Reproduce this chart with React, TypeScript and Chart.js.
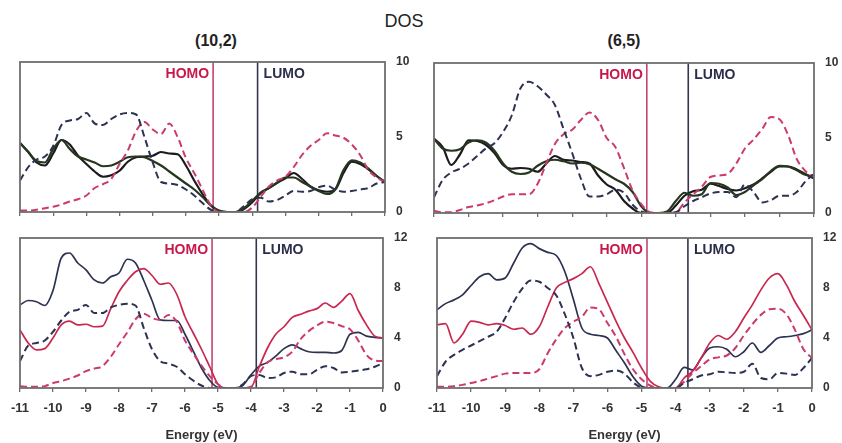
import React, { useEffect, useRef } from "react";
import { Chart, registerables } from "chart.js";
Chart.register(...registerables);

// Energy grid (eV)
const ENERGY = [
  -11, -10.75, -10.5, -10.25, -10, -9.75, -9.5, -9.25, -9, -8.75,
  -8.5, -8.25, -8, -7.75, -7.5, -7.25, -7, -6.75, -6.5, -6.25,
  -6, -5.75, -5.5, -5.25, -5, -4.75, -4.5, -4.25, -4, -3.75,
  -3.5, -3.25, -3, -2.75, -2.5, -2.25, -2, -1.75, -1.5, -1.25,
  -1, -0.75, -0.5, -0.25, 0,
];

const X_TICKS = [-11, -10, -9, -8, -7, -6, -5, -4, -3, -2, -1, 0];
const Y_TICKS_TOP = [0, 5, 10];
const Y_TICKS_BOTTOM = [0, 4, 8, 12];

const TITLE = "DOS";
const COLUMN_TITLES = ["(10,2)", "(6,5)"];
const X_AXIS_TITLE = "Energy (eV)";
const HOMO_LABEL = "HOMO";
const LUMO_LABEL = "LUMO";

// Frontier levels (eV)
const HOMO_10_2 = -5.18;
const LUMO_10_2 = -3.84;
const HOMO_6_5 = -4.84;
const LUMO_6_5 = -3.64;

// (10,2) upper panel
const T102_SOLID_A = [4.6, 4.0, 3.3, 3.1, 3.9, 4.8, 4.5, 3.75, 3.2, 2.7, 2.35, 2.45, 2.75, 3.35, 3.65, 3.7, 3.75, 4.0, 3.9, 3.85, 3.1, 2.1, 1.2, 0.45, 0.05, 0, 0, 0.2, 0.65, 1.25, 1.6, 1.95, 2.25, 2.6, 2.2, 1.7, 1.45, 1.35, 1.5, 2.6, 3.35, 3.2, 2.85, 2.4, 2.0];
const T102_SOLID_B = [4.6, 4.0, 3.4, 3.3, 4.2, 4.8, 4.2, 3.7, 3.5, 3.3, 3.05, 3.1, 3.35, 3.65, 3.7, 3.65, 3.4, 3.1, 2.7, 2.3, 1.9, 1.5, 1.0, 0.45, 0.1, 0, 0, 0.25, 0.75, 1.3, 1.6, 1.95, 2.3, 2.3, 2.0, 1.7, 1.4, 1.2, 1.5, 2.8, 3.45, 3.3, 2.9, 2.4, 2.0];
const T102_DASH_NAVY = [2.1, 3.0, 3.5, 3.7, 4.4, 5.8, 6.1, 6.2, 6.6, 5.9, 5.8, 6.2, 6.5, 6.6, 6.5, 5.0, 3.3, 2.0, 1.9, 1.8, 1.5, 1.1, 0.6, 0.15, 0, 0, 0, 0.4, 0.85, 0.95, 0.7, 0.8, 1.1, 1.4, 1.35, 1.4, 1.65, 1.75, 1.5, 1.35, 1.4, 1.5, 1.6, 1.9, 2.0];
const T102_DASH_RED = [0.1, 0.1, 0.15, 0.25, 0.35, 0.5, 0.7, 0.85, 1.1, 1.6, 1.85, 2.2, 3.2, 4.1, 5.4, 6.0, 5.5, 5.2, 5.9, 5.0, 3.6, 2.6, 1.5, 0.45, 0, 0, 0, 0, 0.3, 1.0, 1.7, 2.1, 2.35, 3.0, 3.8, 4.4, 4.8, 5.25, 5.1, 4.95, 4.5, 3.8, 2.8, 2.3, 2.0];

// (6,5) upper panel
const T65_SOLID_A = [4.95, 4.4, 3.2, 3.9, 4.85, 4.8, 4.55, 4.0, 3.2, 2.95, 3.0, 2.95, 2.75, 3.3, 3.8, 3.55, 3.5, 3.4, 3.3, 2.5, 1.9, 1.55, 0.8, 0.3, 0, 0, 0, 0, 0.5, 1.15, 1.45, 1.55, 1.95, 1.8, 1.6, 1.5, 1.65, 1.9, 2.3, 2.75, 3.1, 3.1, 2.9, 2.6, 2.3];
const T65_SOLID_B = [4.95, 4.3, 4.15, 4.25, 4.7, 4.85, 4.7, 4.15, 3.3, 2.75, 2.6, 2.7, 3.15, 3.45, 3.55, 3.45, 3.3, 3.35, 3.25, 2.95, 2.6, 2.25, 1.95, 1.4, 0.45, 0, 0, 0.1, 0.8, 1.35, 1.15, 1.25, 2.0, 1.95, 1.7, 1.2, 1.4, 1.85, 2.25, 2.8, 3.15, 3.1, 2.85, 2.55, 2.4];
const T65_DASH_NAVY = [1.05, 2.2, 2.7, 2.95, 3.3, 3.8, 4.3, 4.65, 5.4, 6.5, 8.3, 8.75, 8.45, 7.9, 7.2, 5.6, 4.0, 2.3, 1.1, 1.1, 1.25, 1.55, 1.35, 0.55, 0.1, 0, 0, 0, 0.05, 0.45, 0.8, 1.05, 1.3, 1.4, 1.4, 1.05, 1.9, 1.4, 0.7, 0.85, 1.15, 1.15, 1.4, 2.1, 2.6];
const T65_DASH_RED = [0.15, 0.05, 0.05, 0.2, 0.4, 0.5, 0.65, 0.85, 1.1, 1.25, 1.25, 1.25, 1.95, 3.3, 4.6, 5.25, 5.55, 6.2, 6.7, 6.2, 5.0, 4.4, 3.0, 1.5, 0.6, 0.05, 0, 0, 0.05, 0.7, 1.25, 1.75, 2.4, 2.5, 2.6, 3.3, 4.3, 4.9, 5.6, 6.4, 6.25, 5.2, 3.6, 2.8, 2.4];

// (10,2) lower panel
const B102_SOLID_NAVY = [6.65, 7.0, 6.9, 6.6, 7.8, 10.4, 10.8, 10.0, 9.45, 8.65, 8.4, 8.9, 9.2, 10.3, 10.0, 8.6, 7.0, 5.45, 5.4, 5.4, 4.3, 2.95, 1.6, 0.6, 0.05, 0, 0, 0.2, 1.05, 1.75, 2.05, 2.55, 3.15, 3.45, 3.15, 2.9, 2.85, 2.85, 2.8, 3.0, 4.3, 4.45, 4.15, 4.05, 4.0];
const B102_SOLID_RED = [4.65, 3.6, 3.05, 3.15, 4.0, 5.05, 5.35, 5.05, 5.1, 4.9, 4.95, 6.35, 7.7, 8.6, 9.3, 9.55, 9.0, 8.3, 8.4, 7.5, 5.7, 4.4, 3.1, 1.7, 0.3, 0, 0, 0, 0.05, 1.7, 3.2, 4.3, 4.9, 5.65, 5.9, 6.15, 6.35, 6.8, 6.45, 6.95, 7.55, 6.2, 5.05, 4.15, 4.0];
const B102_DASH_NAVY = [2.15, 3.4, 3.6, 3.8, 4.5, 5.4, 6.1, 6.25, 6.65, 6.0, 6.0, 6.45, 6.65, 6.75, 6.6, 4.8, 3.1, 2.15, 1.95, 1.7, 1.1, 0.6, 0.2, 0, 0, 0, 0, 0.3, 0.95, 1.05, 0.8, 0.85, 1.2, 1.3, 1.1, 1.1, 1.45, 1.75, 1.6, 1.25, 1.3, 1.4, 1.5, 1.7, 2.0];
const B102_DASH_RED = [0.15, 0.1, 0.1, 0.15, 0.4, 0.55, 0.75, 1.0, 1.35, 1.55, 1.75, 2.5, 3.5, 4.45, 5.5, 5.95, 5.6, 5.45, 5.85, 5.3, 3.8, 2.75, 1.8, 0.95, 0.3, 0, 0, 0, 0.1, 1.2, 2.05, 2.3, 2.45, 2.9, 3.9, 4.55, 5.0, 5.3, 5.2, 4.95, 4.7, 3.8, 2.65, 2.2, 2.15];

// (6,5) lower panel
const B65_SOLID_NAVY = [6.25, 6.75, 7.05, 7.45, 8.2, 8.9, 9.15, 8.65, 8.8, 10.0, 11.2, 11.55, 11.15, 10.85, 10.6, 9.3, 7.1, 4.8, 4.3, 4.2, 4.0, 3.0, 2.0, 0.9, 0.15, 0, 0, 0, 0.7, 1.65, 1.45, 2.4, 3.2, 3.3, 3.1, 2.5, 2.9, 3.6, 2.85, 3.4, 4.0, 4.1, 4.2, 4.35, 4.65];
const B65_SOLID_RED = [5.05, 5.15, 3.6, 4.3, 5.35, 5.25, 5.05, 5.15, 5.0, 4.7, 4.8, 4.3, 4.9, 6.5, 8.0, 8.45, 8.75, 9.15, 9.7, 8.35, 6.85, 5.35, 4.0, 2.85, 1.6, 0.55, 0.1, 0, 0, 0.8, 1.35, 2.4, 3.6, 4.2, 3.9, 4.5, 5.6, 6.65, 7.85, 8.8, 9.15, 8.25, 6.9, 5.8, 4.65];
const B65_DASH_NAVY = [0.95, 2.1, 2.65, 3.05, 3.4, 3.75, 4.1, 4.5, 5.6, 6.9, 7.95, 8.6, 8.5, 8.0, 7.4, 5.9, 4.0, 1.6, 0.95, 1.05, 1.3, 1.4, 1.15, 0.45, 0.05, 0, 0, 0, 0, 0.4, 0.7, 1.0, 1.1, 1.3, 1.25, 1.2, 1.3, 1.95, 0.8, 0.7, 1.2, 1.15, 1.05, 1.6, 2.4];
const B65_DASH_RED = [0.1, 0.1, 0.15, 0.25, 0.4, 0.55, 0.75, 0.95, 1.15, 1.2, 1.2, 1.2, 1.5, 2.8, 3.9, 4.8, 5.3, 5.7, 6.45, 6.3, 5.2, 4.1, 2.7, 1.5, 0.7, 0.2, 0, 0, 0, 0.5, 1.2, 1.75, 2.3, 2.45, 2.6, 3.2, 4.2, 5.1, 5.85, 6.3, 6.35, 5.9, 4.65, 3.1, 2.4];

const W = 842;
const H = 443;
const FONT = "'Liberation Sans', Arial, Helvetica, sans-serif";
const RED = "#c8284f";
const RED_DASH = "#cc3a6c";
const NAVY = "#2d3252";
const BLACK = "#1c1a1c";
const GREEN = "#26361f";
const FRAME = "#6e6e6e";
const Y_AXIS_W = 30;

type Series = { data: number[]; color: string; dash: number[]; width: number };
type Area = { left: number; top: number; right: number; bottom: number };

interface PanelProps {
  area: Area;
  yTicks: number[];
  showX: boolean;
  series: Series[];
  homo: number;
  lumo: number;
}

function Panel({ area, yTicks, showX, series, homo, lumo }: PanelProps) {
  const ref = useRef<HTMLCanvasElement | null>(null);
  useEffect(() => {
    if (!ref.current) return;
    const axisH = showX ? H - area.bottom : 10;
    const decor = {
      id: "decor",
      beforeDatasetsDraw(chart: any) {
        const { ctx, chartArea: a, scales } = chart;
        const xs = scales.x;
        ctx.save();
        ctx.lineWidth = 1.6;
        ctx.strokeStyle = "#c4466e";
        const hx = xs.getPixelForValue(homo);
        ctx.beginPath();
        ctx.moveTo(hx, a.top);
        ctx.lineTo(hx, a.bottom);
        ctx.stroke();
        ctx.strokeStyle = "#33364e";
        const lx = xs.getPixelForValue(lumo);
        ctx.beginPath();
        ctx.moveTo(lx, a.top);
        ctx.lineTo(lx, a.bottom);
        ctx.stroke();
        ctx.restore();
      },
      afterDatasetsDraw(chart: any) {
        const { ctx, chartArea: a, scales } = chart;
        const xs = scales.x;
        ctx.save();
        ctx.strokeStyle = FRAME;
        ctx.lineWidth = 1.8;
        ctx.strokeRect(a.left, a.top, a.right - a.left, a.bottom - a.top);
        ctx.font = `bold 14px ${FONT}`;
        ctx.textBaseline = "top";
        ctx.fillStyle = "#c8174a";
        ctx.textAlign = "right";
        ctx.fillText(HOMO_LABEL, xs.getPixelForValue(homo) - 4, a.top + 5);
        ctx.fillStyle = "#2b2e4a";
        ctx.textAlign = "left";
        ctx.fillText(LUMO_LABEL, xs.getPixelForValue(lumo) + 6, a.top + 5);
        ctx.restore();
      },
    };
    const chart = new Chart(ref.current, {
      type: "line",
      data: {
        datasets: series.map((s) => ({
          data: ENERGY.map((x, i) => ({ x, y: s.data[i] })),
          borderColor: s.color,
          borderWidth: s.width,
          borderDash: s.dash,
          pointRadius: 0,
          fill: false,
          cubicInterpolationMode: "monotone" as const,
        })),
      },
      options: {
        animation: false,
        responsive: false,
        events: [],
        layout: {
          padding: {
            left: area.left,
            top: area.top,
            right: W - area.right - Y_AXIS_W,
            bottom: H - area.bottom - axisH,
          },
        },
        plugins: {
          legend: { display: false },
          tooltip: { enabled: false },
          title: { display: false },
        },
        scales: {
          x: {
            type: "linear",
            position: "bottom",
            min: -11,
            max: 0,
            afterBuildTicks: (s: any) => {
              s.ticks = X_TICKS.map((v) => ({ value: v }));
            },
            ticks: {
              display: showX,
              padding: 9,
              color: "#333333",
              font: { family: FONT, size: 13, weight: "bold" },
              maxRotation: 0,
              autoSkip: false,
            },
            grid: {
              display: true,
              drawOnChartArea: false,
              drawTicks: true,
              tickLength: 4,
              color: FRAME,
              lineWidth: 1.3,
            },
            border: { display: false },
            title: {
              display: showX,
              text: X_AXIS_TITLE,
              color: "#333333",
              font: { family: FONT, size: 13, weight: "bold" },
              padding: 0,
            },
            afterFit: (s: any) => {
              s.height = axisH;
            },
          },
          y: {
            type: "linear",
            position: "right",
            min: 0,
            max: yTicks[yTicks.length - 1],
            afterBuildTicks: (s: any) => {
              s.ticks = yTicks.map((v) => ({ value: v }));
            },
            ticks: {
              padding: 11,
              color: "#333333",
              font: { family: FONT, size: 12, weight: "bold" },
            },
            grid: { display: false, drawTicks: false },
            border: { display: false },
            afterFit: (s: any) => {
              s.width = Y_AXIS_W;
            },
          },
        },
      },
      plugins: [decor],
    } as any);
    return () => chart.destroy();
  }, []);
  return (
    <canvas
      ref={ref}
      width={W}
      height={H}
      style={{ position: "absolute", left: 0, top: 0, width: W, height: H }}
    />
  );
}

const topSeries = (a: number[], b: number[], dn: number[], dr: number[]): Series[] => [
  { data: dn, color: NAVY, dash: [7, 4], width: 2 },
  { data: dr, color: RED_DASH, dash: [7, 4], width: 2 },
  { data: b, color: GREEN, dash: [], width: 2.2 },
  { data: a, color: BLACK, dash: [], width: 2.2 },
];

const bottomSeries = (sn: number[], sr: number[], dn: number[], dr: number[]): Series[] => [
  { data: dn, color: NAVY, dash: [7, 4], width: 2 },
  { data: dr, color: RED_DASH, dash: [7, 4], width: 2 },
  { data: sr, color: RED, dash: [], width: 1.7 },
  { data: sn, color: NAVY, dash: [], width: 1.7 },
];

export default function App() {
  const txt = (text: string, cx: number, cy: number, size: number, bold: boolean) => (
    <div
      style={{
        position: "absolute",
        left: cx - 100,
        top: cy - 12,
        width: 200,
        height: 24,
        lineHeight: "24px",
        textAlign: "center",
        fontFamily: FONT,
        fontSize: size,
        fontWeight: bold ? "bold" : "normal",
        color: "#222",
      }}
    >
      {text}
    </div>
  );
  return (
    <div style={{ position: "absolute", left: 0, top: 0, width: W, height: H, background: "#fff" }}>
      {txt(TITLE, 404, 21, 18, false)}
      {txt(COLUMN_TITLES[0], 216, 41, 16, true)}
      {txt(COLUMN_TITLES[1], 624, 41, 16, true)}
      <Panel
        area={{ left: 20, top: 62, right: 385, bottom: 212 }}
        yTicks={Y_TICKS_TOP}
        showX={false}
        series={topSeries(T102_SOLID_A, T102_SOLID_B, T102_DASH_NAVY, T102_DASH_RED)}
        homo={HOMO_10_2}
        lumo={LUMO_10_2}
      />
      <Panel
        area={{ left: 434, top: 63, right: 814, bottom: 213 }}
        yTicks={Y_TICKS_TOP}
        showX={false}
        series={topSeries(T65_SOLID_A, T65_SOLID_B, T65_DASH_NAVY, T65_DASH_RED)}
        homo={HOMO_6_5}
        lumo={LUMO_6_5}
      />
      <Panel
        area={{ left: 20, top: 238, right: 383, bottom: 388 }}
        yTicks={Y_TICKS_BOTTOM}
        showX={true}
        series={bottomSeries(B102_SOLID_NAVY, B102_SOLID_RED, B102_DASH_NAVY, B102_DASH_RED)}
        homo={HOMO_10_2}
        lumo={LUMO_10_2}
      />
      <Panel
        area={{ left: 437, top: 238, right: 812, bottom: 388 }}
        yTicks={Y_TICKS_BOTTOM}
        showX={true}
        series={bottomSeries(B65_SOLID_NAVY, B65_SOLID_RED, B65_DASH_NAVY, B65_DASH_RED)}
        homo={HOMO_6_5}
        lumo={LUMO_6_5}
      />
    </div>
  );
}
